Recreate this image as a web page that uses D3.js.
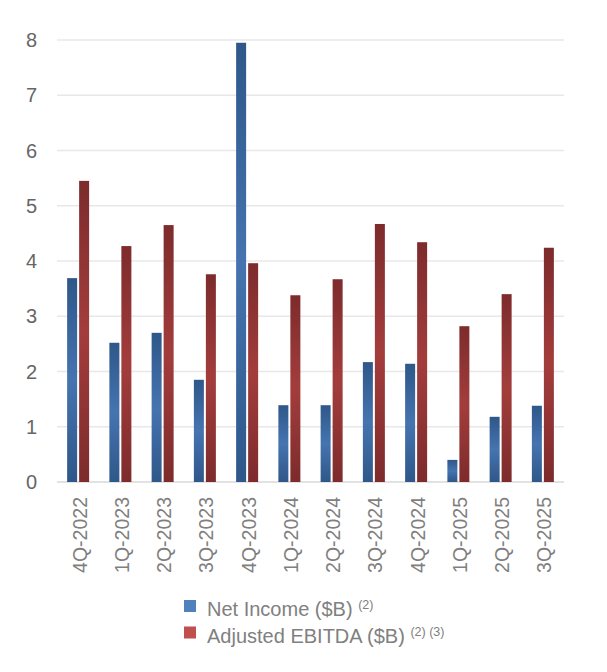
<!DOCTYPE html>
<html>
<head>
<meta charset="utf-8">
<script src="https://cdn.jsdelivr.net/npm/d3@7"></script>
<style>
  body { margin: 0; background: #fff; }
  text { font-family: "Liberation Sans", Arial, sans-serif; }
</style>
</head>
<body>
<div id="chart"></div>
<script>
var quarters = ["4Q-2022", "1Q-2023", "2Q-2023", "3Q-2023", "4Q-2023", "1Q-2024",
                "2Q-2024", "3Q-2024", "4Q-2024", "1Q-2025", "2Q-2025", "3Q-2025"];
var netIncome = [3.69, 2.52, 2.70, 1.85, 7.95, 1.39, 1.39, 2.17, 2.14, 0.40, 1.18, 1.38];
var adjEbitda = [5.45, 4.27, 4.65, 3.76, 3.96, 3.38, 3.67, 4.67, 4.34, 2.82, 3.40, 4.24];
var yTicks = [0, 1, 2, 3, 4, 5, 6, 7, 8];
var legendItems = [
    {label: "Net Income ($B)", sup: "(2)", color: "#4f81bd"},
    {label: "Adjusted EBITDA ($B)", sup: "(2) (3)", color: "#c0504d"}
];

var width = 607, height = 672;
var margin = {top: 40, left: 57, right: 43, bottom: 190};
var barW = 10, barGap = 2;

var svg = d3.select("#chart").append("svg")
    .attr("width", width)
    .attr("height", height);

// vertical gradients, dark at the ends and lighter in the middle
var defs = svg.append("defs");
function addGradient(id, dark, light) {
    var g = defs.append("linearGradient")
        .attr("id", id)
        .attr("x1", 0).attr("y1", 0).attr("x2", 0).attr("y2", 1);
    g.append("stop").attr("offset", "0%").attr("stop-color", dark);
    g.append("stop").attr("offset", "50%").attr("stop-color", light);
    g.append("stop").attr("offset", "100%").attr("stop-color", dark);
}
addGradient("gradBlue", "#2f5789", "#4574b0");
addGradient("gradRed", "#7d2b2c", "#a33d3c");

var x = d3.scaleBand()
    .domain(quarters)
    .range([margin.left, width - margin.right])
    .padding(0);

var y = d3.scaleLinear()
    .domain([0, 8])
    .range([height - margin.bottom, margin.top]);

// gridlines
svg.append("g")
    .selectAll("line")
    .data(yTicks)
    .enter()
    .append("line")
    .attr("x1", margin.left)
    .attr("x2", width - margin.right)
    .attr("y1", function (d) { return y(d); })
    .attr("y2", function (d) { return y(d); })
    .attr("stroke", function (d) { return d === 0 ? "#d9d9d9" : "#e8e8e8"; })
    .attr("stroke-width", 1.5);

// y axis labels
svg.append("g")
    .selectAll("text")
    .data(yTicks)
    .enter()
    .append("text")
    .attr("x", 37)
    .attr("y", function (d) { return y(d); })
    .attr("dy", "0.36em")
    .attr("text-anchor", "end")
    .attr("font-size", 20)
    .attr("fill", "#666666")
    .text(function (d) { return d; });

// bars
var groups = svg.append("g")
    .selectAll("g")
    .data(quarters)
    .enter()
    .append("g");

groups.append("rect")
    .attr("x", function (d) { return x(d) + x.bandwidth() / 2 - barGap / 2 - barW; })
    .attr("y", function (d, i) { return y(netIncome[i]); })
    .attr("width", barW)
    .attr("height", function (d, i) { return y(0) - y(netIncome[i]); })
    .attr("fill", "url(#gradBlue)");

groups.append("rect")
    .attr("x", function (d) { return x(d) + x.bandwidth() / 2 + barGap / 2; })
    .attr("y", function (d, i) { return y(adjEbitda[i]); })
    .attr("width", barW)
    .attr("height", function (d, i) { return y(0) - y(adjEbitda[i]); })
    .attr("fill", "url(#gradRed)");

// x axis labels, rotated
svg.append("g")
    .selectAll("text")
    .data(quarters)
    .enter()
    .append("text")
    .attr("transform", function (d) {
        return "translate(" + (x(d) + x.bandwidth() / 2 + 8.5) + "," + 497 + ") rotate(-90)";
    })
    .attr("text-anchor", "end")
    .attr("font-size", 19.5)
    .attr("fill", "#7f7f7f")
    .text(function (d) { return d; });

// legend
var legend = svg.append("g")
    .selectAll("g")
    .data(legendItems)
    .enter()
    .append("g")
    .attr("transform", function (d, i) { return "translate(184," + (600 + i * 26.5) + ")"; });

legend.append("rect")
    .attr("width", 12)
    .attr("height", 12)
    .attr("fill", function (d) { return d.color; });

var lt = legend.append("text")
    .attr("x", 23)
    .attr("y", 16)
    .attr("font-size", 20)
    .attr("fill", "#808080");
lt.append("tspan").text(function (d) { return d.label + " "; });
lt.append("tspan")
    .attr("font-size", 12.5)
    .attr("dy", -7)
    .text(function (d) { return d.sup; });
</script>
</body>
</html>
